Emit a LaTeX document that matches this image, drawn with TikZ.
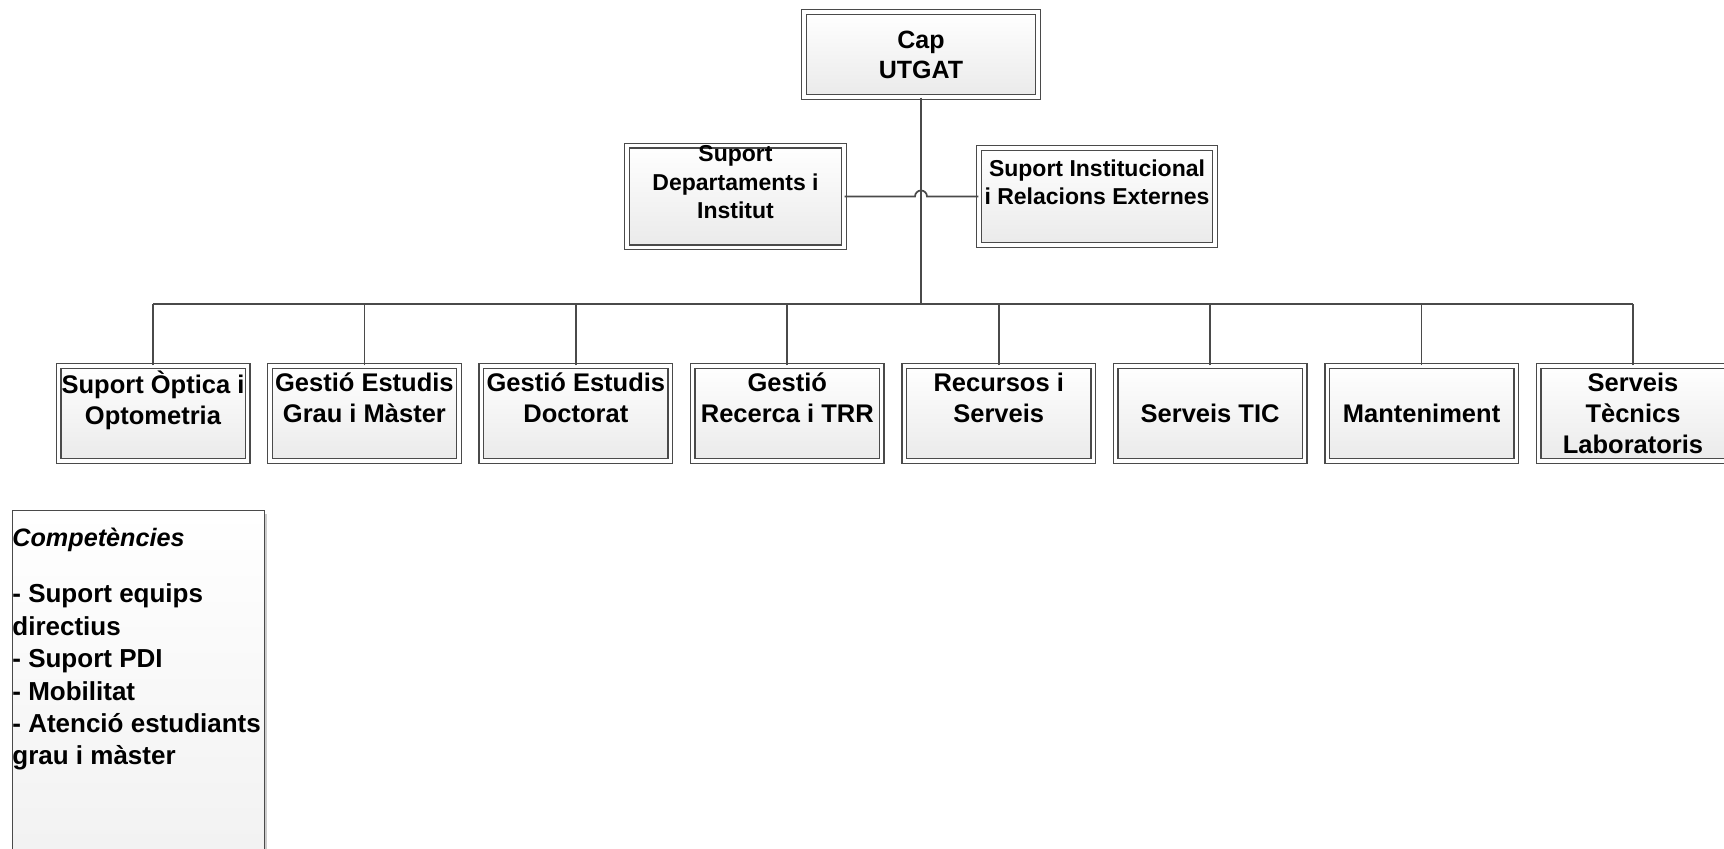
\documentclass[tikz,border=0pt]{standalone}
\usepackage{fontspec}
\setmainfont{Liberation Sans}
\usetikzlibrary{shadows}
\definecolor{linegray}{HTML}{4A4A4A}
\definecolor{boxbot}{HTML}{EAEAEA}
\tikzset{
  shadowed/.style={drop shadow={shadow xshift=1.5pt, shadow yshift=-1.5pt, opacity=0.2, fill=black}},
  orgbox/.style={shadowed, draw=linegray, line width=0.7pt, double=white, double distance=1.6pt,
    top color=white, bottom color=boxbot, inner sep=0pt, align=center},
  capfont/.style={font=\fontsize{12.5}{15}\selectfont\bfseries},
  midfont/.style={font=\fontsize{11.5}{14.25}\selectfont\bfseries},
  lowfont/.style={font=\fontsize{12.75}{15.5}\selectfont\bfseries},
  midbox/.style={orgbox, midfont, minimum height=48.5pt},
  lowbox/.style={orgbox, lowfont, minimum width=94.5pt, minimum height=47.5pt},
  compbox/.style={shadowed, draw=linegray, line width=0.7pt, top color=white, bottom color=boxbot!70!white,
    inner sep=0pt, anchor=north west, minimum width=126pt, minimum height=190pt},
  conn/.style={draw=linegray, line width=0.85pt},
}
\begin{document}
\begin{tikzpicture}[x=0.5pt, y=-0.5pt]
\useasboundingbox (0,0) rectangle (1724,848);
% top
\node[orgbox, capfont, minimum width=117pt, minimum height=42.5pt] (cap) at (921,54.5) {Cap\\UTGAT};
% middle
\node[midbox, minimum width=108.5pt] (dept) at (735.5,196.5) {Suport\\Departaments i\\Institut\\\mbox{}};
\node[midbox, minimum width=118pt] (inst) at (1097,196.5) {Suport Institucional\\i Relacions Externes\\\mbox{}};
% bottom
\node[lowbox] (b1) at (153,413.5) {Suport Òptica i\\Optometria\\\mbox{}};
\node[lowbox] (b2) at (364.4,413.5) {Gestió Estudis\\Grau i Màster\\\mbox{}};
\node[lowbox] (b3) at (575.9,413.5) {Gestió Estudis\\Doctorat\\\mbox{}};
\node[lowbox] (b4) at (787.3,413.5) {Gestió\\Recerca i TRR\\\mbox{}};
\node[lowbox] (b5) at (998.7,413.5) {Recursos i\\Serveis\\\mbox{}};
\node[lowbox] (b6) at (1210.1,413.5) {Serveis TIC};
\node[lowbox] (b7) at (1421.6,413.5) {Manteniment};
\node[lowbox] (b8) at (1633,413.5) {Serveis\\Tècnics\\Laboratoris};
% connectors
\coordinate (bus) at (921,304);
\draw[conn] (cap.south) -- (bus);
\draw[conn] (dept.east) -- ([xshift=-3pt]dept.east -| cap.south) arc[start angle=180, end angle=0, radius=3pt] -- (inst.west);
\draw[conn] (b1.north |- bus) -- (b8.north |- bus);
\foreach \b in {b1,b2,b3,b4,b5,b6,b7,b8} {
  \draw[conn] (\b.north) -- (\b.north |- bus);
}
% competencies
\node[compbox] (comp) at (11.5,510) {};
\node[anchor=north west, inner sep=0pt, align=left, font=\fontsize{13}{16.2}\selectfont\bfseries] (comptext) at (12,528)
  {{\fontsize{12.6}{16.2}\selectfont\itshape Competències}\\[11.8pt]- Suport equips\\directius\\- Suport PDI\\- Mobilitat\\- Atenció estudiants\\grau i màster};
\end{tikzpicture}
\end{document}
